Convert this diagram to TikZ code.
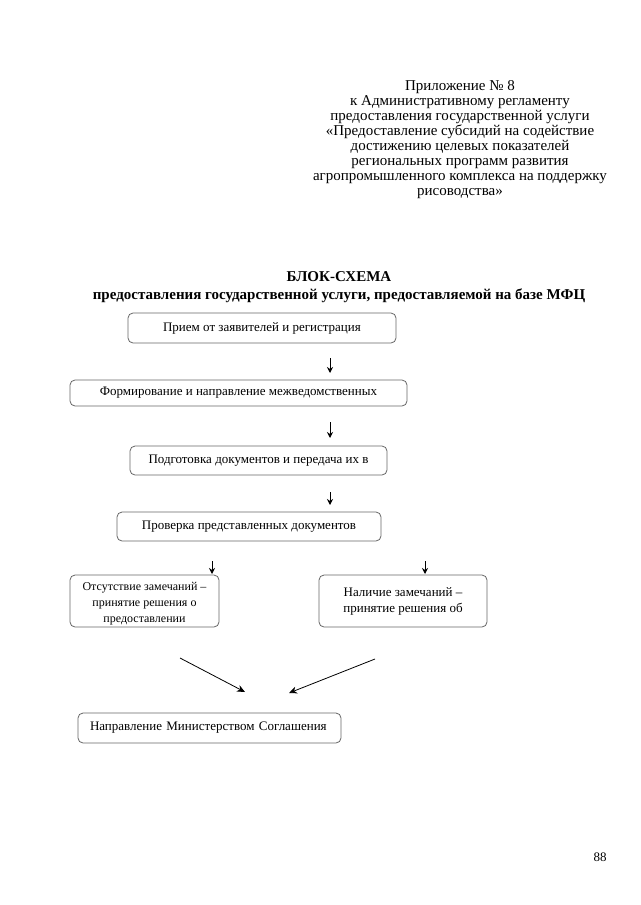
\documentclass[tikz,border=0pt]{standalone}
\usepackage{fontspec}
\setmainfont{Liberation Serif}
\usetikzlibrary{arrows.meta}
\begin{document}
\begin{tikzpicture}[x=1pt,y=-1pt,
  box/.style={draw=black!60,line width=0.8pt,rounded corners=5pt,inner sep=0pt,font=\fontsize{13}{16}\selectfont,align=center},
  arr/.style={-{Stealth[length=6pt,width=6pt]},line width=1pt},
  darr/.style={-{Stealth[length=8pt,width=7pt]},line width=0.8pt}]
\useasboundingbox (0,0) rectangle (640,905);
\node[font=\fontsize{15}{15}\selectfont,align=center,anchor=north,inner sep=0pt] (hdr) at (460,80)
{Приложение № 8\\к Административному регламенту\\предоставления государственной услуги\\«Предоставление субсидий на содействие\\достижению целевых показателей\\региональных программ развития\\агропромышленного комплекса на поддержку\\рисоводства»};
\node[font=\fontsize{15}{18}\selectfont\bfseries,align=center] (title) at (339,287)
{БЛОК-СХЕМА\\предоставления государственной услуги, предоставляемой на базе МФЦ};

\node[box,minimum width=268pt,minimum height=30pt] (b1) at (262,328) {Прием от заявителей и регистрация};
\node[box,minimum width=337pt,minimum height=26pt] (b2) at (238.5,393) {Формирование и направление межведомственных};
\node[box,minimum width=257pt,minimum height=29pt] (b3) at (258.5,460.5) {Подготовка документов и передача их в};
\node[box,minimum width=264pt,minimum height=29pt] (b4) at (249,526.5) {Проверка представленных документов};
\node[box,minimum width=149pt,minimum height=52pt] (b5) at (144.5,601) {};
\node[font=\fontsize{12}{16}\selectfont,align=center,inner sep=0pt] (b5t) at (144.5,604) {Отсутствие замечаний –\\принятие решения о\\предоставлении};
\node[box,minimum width=168pt,minimum height=52pt] (b6) at (403,601) {Наличие замечаний –\\принятие решения об};
\node[box,minimum width=263pt,minimum height=30pt,text width=239pt,align=left] (b7) at (209.5,728) {Направление Министерством Соглашения};

\coordinate (a1s) at (330,358); \coordinate (a1e) at (330,373);
\coordinate (a2s) at (330,422); \coordinate (a2e) at (330,438);
\coordinate (a3s) at (330,492); \coordinate (a3e) at (330,505);
\coordinate (a4s) at (212,561); \coordinate (a4e) at (212,574);
\coordinate (a5s) at (425,561); \coordinate (a5e) at (425,574);
\coordinate (d1s) at (180,658); \coordinate (d1e) at (245,692);
\coordinate (d2s) at (375,659); \coordinate (d2e) at (289,693);
\draw[arr] (a1s) -- (a1e);
\draw[arr] (a2s) -- (a2e);
\draw[arr] (a3s) -- (a3e);
\draw[arr] (a4s) -- (a4e);
\draw[arr] (a5s) -- (a5e);
\draw[darr] (d1s) -- (d1e);
\draw[darr] (d2s) -- (d2e);

\node[font=\fontsize{13}{13}\selectfont] (pg) at (600,857) {88};
\end{tikzpicture}
\end{document}
